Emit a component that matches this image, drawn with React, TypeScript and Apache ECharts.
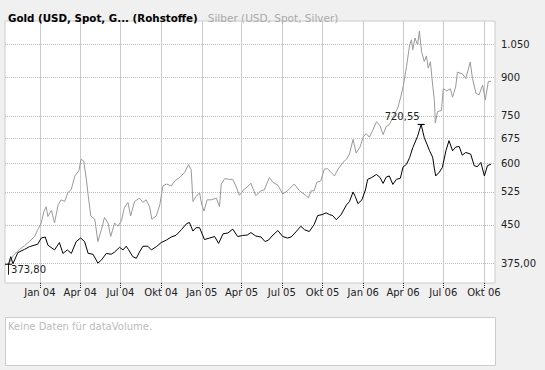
import React, { useEffect, useRef } from "react";
import * as echarts from "echarts";

const goldDates = [
  "2003-10-22","2003-10-27","2003-11-01","2003-11-12","2003-11-27","2003-12-08","2003-12-27",
  "2004-01-04","2004-01-13","2004-01-19","2004-02-03","2004-02-14","2004-02-22","2004-03-03",
  "2004-03-12","2004-03-23","2004-04-02","2004-04-11","2004-04-19","2004-04-30","2004-05-11",
  "2004-05-19","2004-05-30","2004-06-10","2004-06-18","2004-06-29","2004-07-07","2004-07-14",
  "2004-07-19","2004-07-29","2004-08-06","2004-08-13","2004-08-21","2004-09-01","2004-09-09",
  "2004-09-20","2004-10-01","2004-10-13","2004-10-24","2004-11-04","2004-11-16","2004-11-27",
  "2004-12-04","2004-12-12","2004-12-19","2004-12-27","2005-01-07","2005-01-19","2005-01-30",
  "2005-02-08","2005-02-18","2005-03-01","2005-03-12","2005-03-23","2005-04-03","2005-04-14",
  "2005-04-22","2005-05-03","2005-05-15","2005-05-24","2005-06-01","2005-06-11","2005-06-22",
  "2005-07-03","2005-07-14","2005-07-22","2005-08-02","2005-08-13","2005-08-21","2005-09-01",
  "2005-09-12","2005-09-20","2005-09-30","2005-10-09","2005-10-17","2005-10-24","2005-11-01",
  "2005-11-12","2005-11-24","2005-12-01","2005-12-09","2005-12-14","2005-12-20","2005-12-29",
  "2006-01-06","2006-01-11","2006-01-19","2006-01-31","2006-02-08","2006-02-15","2006-02-22",
  "2006-03-01","2006-03-09","2006-03-17","2006-03-26","2006-04-01","2006-04-09","2006-04-16",
  "2006-04-23","2006-05-04","2006-05-12","2006-05-19","2006-05-25","2006-05-31","2006-06-07",
  "2006-06-11","2006-06-14","2006-06-22","2006-06-29","2006-07-07","2006-07-14","2006-07-22",
  "2006-07-29","2006-08-06","2006-08-13","2006-08-21","2006-09-01","2006-09-09","2006-09-16",
  "2006-09-24","2006-10-02","2006-10-09","2006-10-17"
];
const goldValues = [
  373.8,387.5,375,395,401,406,411,
  423,425,409,400,414,393.5,400,
  393.5,416,423,416,393.5,392,376,
  381.5,393.5,392,396,405,400,407,
  401,387.5,384.6,396,407,407,400,
  406,414,419,425,428.5,440,452,
  455,437,444,444,420,423,426,
  412.5,431.5,433,441,426,428,429,
  434,427,425,416,419,429,438,
  426,423,425,435.5,447,440,436,
  450.5,470,472,476,472,470,461,
  472,494,502,525,514,497,506,
  530,557,561,570,562,546.5,563,
  566,544,557,560,590,598,617,
  646,682,720.55,678,657,637,618,
  585,566,576,589,637,668,637,
  648,650,624,632,627,594,591,
  603,566,594,598
];

const silverDates = [
  "2003-10-22","2003-11-02","2003-11-16","2003-11-27","2003-12-08","2003-12-20","2003-12-27",
  "2004-01-04","2004-01-10","2004-01-15","2004-01-19","2004-01-27","2004-02-03","2004-02-11",
  "2004-02-18","2004-02-26","2004-03-04","2004-03-12","2004-03-20","2004-03-29","2004-04-03",
  "2004-04-09","2004-04-15","2004-04-19","2004-04-25","2004-05-04","2004-05-11","2004-05-19",
  "2004-05-26","2004-06-03","2004-06-09","2004-06-18","2004-06-25","2004-07-03","2004-07-10",
  "2004-07-18","2004-07-24","2004-08-02","2004-08-13","2004-08-21","2004-08-28","2004-09-05",
  "2004-09-10","2004-09-20","2004-09-28","2004-10-05","2004-10-13","2004-10-24","2004-11-01",
  "2004-11-12","2004-11-23","2004-12-02","2004-12-08","2004-12-12","2004-12-19","2004-12-27",
  "2005-01-01","2005-01-06","2005-01-13","2005-01-22","2005-02-03","2005-02-10","2005-02-14",
  "2005-02-22","2005-03-05","2005-03-12","2005-03-19","2005-03-27","2005-04-07","2005-04-14",
  "2005-04-22","2005-05-03","2005-05-15","2005-05-22","2005-06-03","2005-06-11","2005-06-22",
  "2005-07-03","2005-07-14","2005-07-29","2005-08-10","2005-08-25","2005-08-30","2005-09-05",
  "2005-09-12","2005-09-18","2005-09-27","2005-10-05","2005-10-12","2005-10-20","2005-10-28",
  "2005-11-05","2005-11-16","2005-11-24","2005-12-01","2005-12-09","2005-12-16","2005-12-24",
  "2006-01-02","2006-01-08","2006-01-15","2006-01-21","2006-01-31","2006-02-08","2006-02-15",
  "2006-02-22","2006-03-01","2006-03-12","2006-03-20","2006-03-27","2006-04-02","2006-04-09",
  "2006-04-16","2006-04-20","2006-04-23","2006-04-28","2006-05-04","2006-05-08","2006-05-13",
  "2006-05-19","2006-05-24","2006-05-28","2006-06-02","2006-06-07","2006-06-11","2006-06-13",
  "2006-06-18","2006-06-27","2006-07-01","2006-07-09","2006-07-17","2006-07-22","2006-07-29",
  "2006-08-02","2006-08-13","2006-08-21","2006-08-31","2006-09-05","2006-09-13","2006-09-20",
  "2006-09-28","2006-10-04","2006-10-11","2006-10-17"
];
const silverValues = [
  373.8,390,401,408,416,426,440,
  454,479,490,468,482,454,494,
  506,502,523,532,566,580,612,
  607,557,517,469,462,416,440,
  466,454,426,454,447,458,488,
  500,469,502,510,500,506,490,
  462,469,494,540,545,540,553,
  562,575,597,583,502,514,523,
  494,480,506,506,510,490,545,
  559,557,557,540,517,532,538,
  547,516,528,530,562,549,542,
  520,528,545,528,516,511,528,
  528,549,553,584,586,576,566,
  584,603,612,627,672,630,646,
  682,690,679,696,730,716,687,
  714,720,754,778,821,867,947,
  1047,1072,1023,1081,1047,1116,1014,
  968,994,939,967,867,806,726,
  765,770,852,844,852,819,859,
  921,914,894,966,895,834,828,
  867,809,882,882
];

const yTicks = [375, 450, 525, 600, 675, 750, 900, 1050];
const xTickDates = [
  "2004-01-01","2004-04-01","2004-07-01","2004-10-01",
  "2005-01-01","2005-04-01","2005-07-01","2005-10-01",
  "2006-01-01","2006-04-01","2006-07-01","2006-10-01"
];
const monthNames = ["Jan","Feb","Mär","Apr","Mai","Jun","Jul","Aug","Sep","Okt","Nov","Dez"];
const yMin = 342.5;
const yMax = 1171;
const xMin = "2003-10-14";
const xMax = "2006-10-26";

function parseLocal(s: string): number {
  const [y, m, d] = s.split("-").map(Number);
  return new Date(y, m - 1, d).getTime();
}

function fmtDe(v: number, dec: number): string {
  const fixed = v.toFixed(dec);
  const [intPart, frac] = fixed.split(".");
  const withSep = intPart.replace(/\B(?=(\d{3})+(?!\d))/g, ".");
  return frac ? withSep + "," + frac : withSep;
}

const FONT = "DejaVu Sans";

export default function App() {
  const ref = useRef<HTMLDivElement>(null);
  useEffect(() => {
    if (!ref.current) return;
    const chart = echarts.init(ref.current, undefined, { renderer: "svg" });
    const goldData = goldDates.map((d, i) => [parseLocal(d), Math.log(goldValues[i])]);
    const silverData = silverDates.map((d, i) => [parseLocal(d), Math.log(silverValues[i])]);
    let maxIdx = 0;
    goldValues.forEach((v, i) => { if (v > goldValues[maxIdx]) maxIdx = i; });
    const xTicks = xTickDates.map(parseLocal);
    const yTickLn = yTicks.map((v) => Math.log(v));

    chart.setOption({
      animation: false,
      backgroundColor: "#f0f0f0",
      title: {
        left: 3,
        top: 4,
        text: "{a|Gold (USD, Spot, G... (Rohstoffe)}  {b|Silber (USD, Spot, Silver)}",
        textStyle: {
          fontWeight: "normal",
          rich: {
            a: { fontFamily: FONT, fontSize: 10.3, fontWeight: "bold", color: "#000" },
            b: { fontFamily: FONT, fontSize: 10.5, fontWeight: "normal", color: "#aaa" },
          },
        },
      },
      grid: {
        left: 5,
        top: 21,
        width: 490,
        height: 262,
        show: true,
        backgroundColor: "#fff",
        borderColor: "#ccc",
        borderWidth: 1,
      },
      xAxis: {
        type: "value",
        min: parseLocal(xMin),
        max: parseLocal(xMax),
        axisLine: { show: false },
        axisTick: {
          show: true,
          customValues: xTicks,
          length: 5,
          lineStyle: { color: "#222", type: "dotted" },
        },
        axisLabel: {
          customValues: xTicks,
          margin: 4,
          fontFamily: FONT,
          fontSize: 10,
          color: "#222",
          formatter: (val: number) => {
            const d = new Date(val);
            return monthNames[d.getMonth()] + " " + String(d.getFullYear()).slice(2);
          },
        },
        splitLine: { show: true, lineStyle: { color: "#ccc", width: 1 } },
      },
      yAxis: {
        type: "value",
        position: "right",
        min: Math.log(yMin),
        max: Math.log(yMax),
        axisLine: { show: false },
        axisTick: { show: false, customValues: yTickLn },
        axisLabel: {
          customValues: yTickLn,
          margin: 6,
          fontFamily: FONT,
          fontSize: 10,
          color: "#222",
          formatter: (val: number) => {
            const v = Math.round(Math.exp(val));
            return fmtDe(v, v === yTicks[0] ? 2 : 0);
          },
        },
        splitLine: { show: true, lineStyle: { color: "#bbb", type: "dotted", width: 1 } },
      },
      series: [
        {
          name: "Silber",
          type: "line",
          data: silverData,
          showSymbol: false,
          lineStyle: { color: "#999", width: 1 },
          z: 2,
        },
        {
          name: "Gold",
          type: "line",
          data: goldData,
          showSymbol: false,
          lineStyle: { color: "#000", width: 1 },
          z: 3,
          markPoint: {
            silent: true,
            data: [
              {
                coord: goldData[0],
                symbol: "path://M0,0H8V1H0Z M3.5,0H4.5V11H3.5Z",
                symbolSize: [7, 11],
                symbolOffset: [0, 5],
                itemStyle: { color: "#000" },
                label: {
                  show: true,
                  position: [6, 1],
                  formatter: fmtDe(goldValues[0], 2),
                  fontFamily: FONT,
                  fontSize: 10,
                  color: "#222",
                },
              },
              {
                coord: goldData[maxIdx],
                symbol: "rect",
                symbolSize: [7, 1.2],
                itemStyle: { color: "#000" },
                label: {
                  show: true,
                  position: [-33, -12],
                  formatter: fmtDe(goldValues[maxIdx], 2),
                  fontFamily: FONT,
                  fontSize: 10,
                  color: "#222",
                },
              },
            ],
          },
        },
      ],
      graphic: [
        {
          type: "rect",
          shape: { x: 5.5, y: 317.5, width: 490, height: 48 },
          style: { fill: "#fff", stroke: "#ccc", lineWidth: 1 },
        },
        {
          type: "text",
          x: 8,
          y: 321,
          style: {
            text: "Keine Daten für dataVolume.",
            fill: "#bbb",
            font: "10px 'DejaVu Sans'",
          },
        },
      ],
    });
    return () => chart.dispose();
  }, []);
  return (
    <div
      ref={ref}
      style={{ position: "absolute", left: 0, top: 0, width: 545, height: 370 }}
    />
  );
}
